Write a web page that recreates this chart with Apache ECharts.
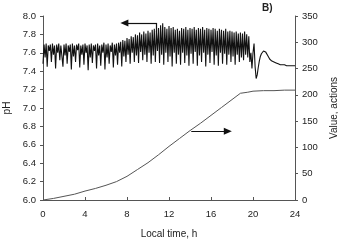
<!DOCTYPE html>
<html>
<head>
<meta charset="utf-8">
<script src="https://cdn.jsdelivr.net/npm/echarts@6/dist/echarts.min.js"></script>
<style>html,body{margin:0;padding:0;background:#fff;}#c{width:338px;height:245px;}</style>
</head>
<body>
<div id="c"></div>
<script>
// pH sampled every 0.1 h from 0 to 24 h (one row per hour)
const phStep = 0.1;
const phValues = [
  7.48, 7.69, 7.55, 7.70, 7.45, 7.68, 7.62, 7.69, 7.50, 7.70,
  7.58, 7.68, 7.43, 7.69, 7.60, 7.70, 7.52, 7.68, 7.66, 7.45,
  7.69, 7.57, 7.70, 7.48, 7.68, 7.61, 7.69, 7.42, 7.70, 7.56,
  7.68, 7.50, 7.69, 7.63, 7.70, 7.44, 7.68, 7.58, 7.69, 7.47,
  7.70, 7.60, 7.68, 7.41, 7.69, 7.55, 7.70, 7.49, 7.68, 7.62,
  7.69, 7.43, 7.70, 7.57, 7.68, 7.46, 7.69, 7.60, 7.71, 7.42,
  7.69, 7.55, 7.70, 7.48, 7.68, 7.61, 7.71, 7.44, 7.69, 7.57,
  7.70, 7.47, 7.71, 7.60, 7.72, 7.45, 7.74, 7.56, 7.73, 7.50,
  7.76, 7.58, 7.75, 7.48, 7.78, 7.60, 7.77, 7.50, 7.80, 7.57,
  7.79, 7.49, 7.82, 7.61, 7.80, 7.52, 7.83, 7.58, 7.81, 7.50,
  7.84, 7.60, 7.82, 7.48, 7.85, 7.57, 7.86, 7.50, 7.84, 7.62,
  7.87, 7.49, 7.90, 7.58, 7.92, 7.47, 7.88, 7.60, 7.86, 7.50,
  7.89, 7.56, 7.87, 7.45, 7.88, 7.60, 7.85, 7.48, 7.86, 7.58,
  7.84, 7.47, 7.87, 7.60, 7.86, 7.49, 7.88, 7.57, 7.85, 7.46,
  7.87, 7.59, 7.86, 7.48, 7.88, 7.61, 7.85, 7.46, 7.87, 7.57,
  7.86, 7.50, 7.88, 7.60, 7.85, 7.45, 7.87, 7.58, 7.86, 7.49,
  7.85, 7.61, 7.87, 7.47, 7.86, 7.57, 7.84, 7.46, 7.86, 7.60,
  7.85, 7.48, 7.84, 7.59, 7.86, 7.47, 7.83, 7.58, 7.84, 7.50,
  7.83, 7.56, 7.82, 7.47, 7.83, 7.58, 7.81, 7.50, 7.82, 7.55,
  7.81, 7.52, 7.83, 7.58, 7.80, 7.55, 7.78, 7.50, 7.60, 7.43,
  7.60, 7.70, 7.45, 7.32, 7.36, 7.44, 7.51, 7.56, 7.59, 7.61,
  7.62, 7.62, 7.61, 7.59, 7.57, 7.55, 7.53, 7.52, 7.51, 7.50,
  7.50, 7.49, 7.49, 7.48, 7.48, 7.48, 7.47, 7.47, 7.47, 7.47,
  7.47, 7.47, 7.46, 7.46, 7.46, 7.46, 7.46, 7.46, 7.46, 7.46,
  7.46
];
// cumulative control actions
const valueTimes = [0, 1, 2, 3, 4, 5, 6, 7, 8, 9, 10, 11, 12, 13, 14, 15, 16, 17, 18, 18.8, 19.5, 20, 21, 22, 23, 24];
const valueValues = [0, 3, 7, 11, 17, 22, 28, 35, 45, 58, 71, 86, 102, 117, 132, 146, 161, 176, 191, 203, 205, 207, 208, 208, 209, 209];
// axis ticks
const xTicks = [0, 4, 8, 12, 16, 20, 24];
const phTicks = [6.0, 6.2, 6.4, 6.6, 6.8, 7.0, 7.2, 7.4, 7.6, 7.8, 8.0];
const valueTicks = [0, 50, 100, 150, 200, 250, 300, 350];
// annotation arrows (data units)
const phArrow = { fromT: 10.76, toT: 7.75, level: 7.925, tickLow: 7.83 };
const valueArrow = { fromT: 14.12, toT: 17.6, level: 131 };

const phData = phValues.map((v, i) => [+(i * phStep).toFixed(1), v]);
const valData = valueTimes.map((t, i) => [t, valueValues[i]]);

const font = 'Liberation Sans, Arial, sans-serif';
const axisCol = '#555';
const txtCol = '#222';

const chart = echarts.init(document.getElementById('c'), null, { renderer: 'canvas' });
chart.setOption({
  animation: false,
  backgroundColor: '#fff',
  grid: { left: 43, right: 43, top: 16, bottom: 45, containLabel: false, outerBoundsMode: 'none' },
  graphic: [{
    type: 'text', left: 262, top: 3,
    style: { text: 'B)', fontFamily: font, fontSize: 10, fontWeight: 'bold', fill: txtCol }
  }],
  xAxis: {
    type: 'value', min: xTicks[0], max: xTicks[xTicks.length - 1], interval: 4,
    name: 'Local time, h', nameLocation: 'middle', nameGap: 29,
    nameTextStyle: { fontFamily: font, fontSize: 10, color: txtCol },
    axisLine: { show: true, lineStyle: { color: axisCol, width: 1 } },
    axisTick: { show: true, inside: true, length: 3, lineStyle: { color: axisCol } },
    axisLabel: { fontFamily: font, fontSize: 9.5, color: txtCol, margin: 9 },
    splitLine: { show: false }
  },
  yAxis: [{
    type: 'value', min: phTicks[0], max: phTicks[phTicks.length - 1], interval: 0.2,
    name: 'pH', nameLocation: 'middle', nameGap: 28, nameRotate: 90,
    nameTextStyle: { fontFamily: font, fontSize: 10, color: txtCol },
    axisLine: { show: true, lineStyle: { color: axisCol, width: 1 } },
    axisTick: { show: true, length: 3, lineStyle: { color: axisCol } },
    axisLabel: { fontFamily: font, fontSize: 9.5, color: txtCol, margin: 7, formatter: v => v.toFixed(1) },
    splitLine: { show: false }
  }, {
    type: 'value', position: 'right', min: valueTicks[0], max: valueTicks[valueTicks.length - 1], interval: 50,
    name: 'Value, actions', nameLocation: 'middle', nameGap: 27, nameRotate: 90,
    nameTextStyle: { fontFamily: font, fontSize: 10, color: txtCol },
    axisLine: { show: true, lineStyle: { color: axisCol, width: 1 } },
    axisTick: { show: true, length: 3, lineStyle: { color: axisCol } },
    axisLabel: { fontFamily: font, fontSize: 9.5, color: txtCol, margin: 7 },
    splitLine: { show: false }
  }],
  series: [{
    type: 'line', yAxisIndex: 0, data: phData, showSymbol: false, symbol: 'none',
    lineStyle: { color: '#111', width: 1.1 },
    markLine: {
      silent: true, symbol: ['none', 'none'],
      lineStyle: { color: '#111', width: 1.2, type: 'solid' },
      label: { show: false },
      data: [
        [{ coord: [phArrow.fromT, phArrow.tickLow], symbol: 'none' }, { coord: [phArrow.fromT, phArrow.level], symbol: 'none' }],
        [{ coord: [phArrow.fromT, phArrow.level], symbol: 'none' }, { coord: [phArrow.toT, phArrow.level], symbol: 'triangle', symbolSize: [7, 8] }]
      ]
    }
  }, {
    type: 'line', yAxisIndex: 1, data: valData, showSymbol: false, symbol: 'none',
    lineStyle: { color: '#555', width: 1 },
    markLine: {
      silent: true, symbol: ['none', 'none'],
      lineStyle: { color: '#111', width: 1.2, type: 'solid' },
      label: { show: false },
      data: [
        [{ coord: [valueArrow.fromT, valueArrow.level], symbol: 'none' }, { coord: [valueArrow.toT, valueArrow.level], symbol: 'triangle', symbolSize: [7, 8] }]
      ]
    }
  }]
});
</script>
</body>
</html>
